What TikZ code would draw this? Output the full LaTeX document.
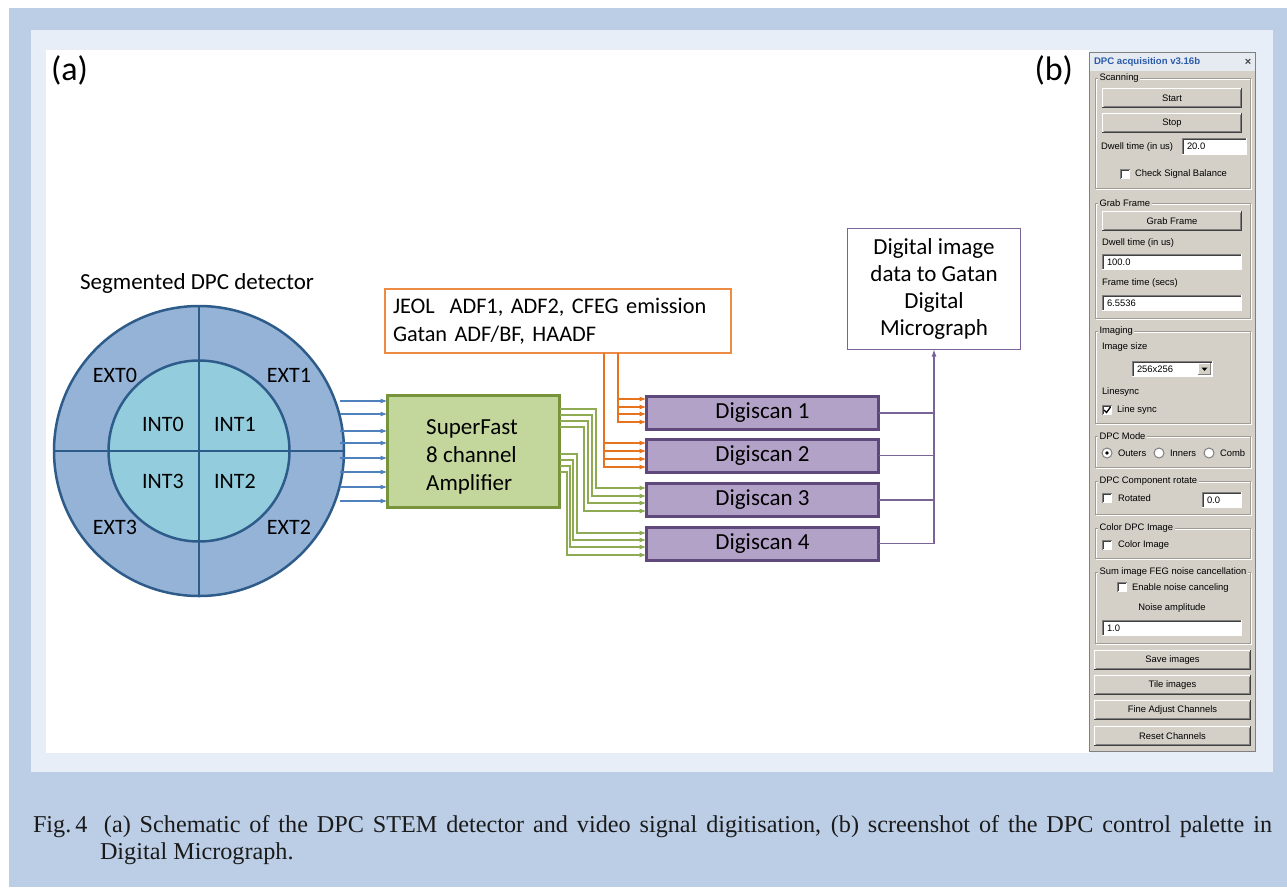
\documentclass[tikz,border=0pt]{standalone}
\usepackage{fontspec}
\setmainfont{Carlito}
\newfontfamily\palfont{Liberation Sans}
\newfontfamily\capfont{Liberation Serif}
\usetikzlibrary{arrows.meta,calc}

\definecolor{pageblue}{HTML}{BCCEE6}
\definecolor{panellight}{HTML}{E8EEF8}
\definecolor{extfill}{HTML}{95B3D7}
\definecolor{intfill}{HTML}{93CDDD}
\definecolor{detline}{HTML}{2E5C8A}
\definecolor{bluearr}{HTML}{4F81BD}
\definecolor{ampfill}{HTML}{C3D69B}
\definecolor{ampline}{HTML}{77933C}
\definecolor{greenarr}{HTML}{8EAA52}
\definecolor{orangebox}{HTML}{ED8B45}
\definecolor{orangeline}{HTML}{E8731F}
\definecolor{dsfill}{HTML}{B3A2C7}
\definecolor{dsline}{HTML}{5F497A}
\definecolor{purpline}{HTML}{7A6396}
\definecolor{palgray}{HTML}{D4D0C8}
\definecolor{palshadow}{HTML}{808080}
\definecolor{paldark}{HTML}{404040}
\definecolor{paletch}{HTML}{A09C94}
\definecolor{titlebg}{HTML}{E6EAF1}
\definecolor{titleblue}{HTML}{2B5CAA}
\definecolor{captext}{HTML}{1A1A1A}

\newcommand\palbtn[6]{%
 \fill[palgray] (#2,#3) rectangle (#4,#5);
 \draw[white, line width=1pt] ({#2+0.5},{#5-1}) -- ({#2+0.5},{#3+0.5}) -- ({#4-1},{#3+0.5});
 \draw[palshadow, line width=1pt] ({#2+1.5},{#5-1.5}) -- ({#4-1.5},{#5-1.5}) -- ({#4-1.5},{#3+1.5});
 \draw[paldark, line width=1pt] ({#2},{#5-0.5}) -- ({#4-0.5},{#5-0.5}) -- ({#4-0.5},{#3});
 \node[paltext] (#1) at ({(#2+#4)/2},{(#3+#5)/2}) {#6};
}
\newcommand\paledit[6]{%
 \fill[white] (#2,#3) rectangle (#4,#5);
 \draw[palshadow, line width=1pt] ({#2+0.5},{#5}) -- ({#2+0.5},{#3+0.5}) -- ({#4},{#3+0.5});
 \draw[paldark, line width=1pt] ({#2+1.5},{#5-1}) -- ({#2+1.5},{#3+1.5}) -- ({#4-1},{#3+1.5});
 \draw[white, line width=1pt] ({#2},{#5-0.5}) -- ({#4-0.5},{#5-0.5}) -- ({#4-0.5},{#3});
 \node[paltext, anchor=west] (#1) at ({#2+5},{(#3+#5)/2}) {#6};
}
\newcommand\palcheck[2]{%
 \fill[white] (#1,#2) rectangle ({#1+10},{#2+10});
 \draw[palshadow, line width=1pt] ({#1+0.5},{#2+10}) -- ({#1+0.5},{#2+0.5}) -- ({#1+10},{#2+0.5});
 \draw[paldark, line width=1pt] ({#1+1.5},{#2+9}) -- ({#1+1.5},{#2+1.5}) -- ({#1+9},{#2+1.5});
}
\newcommand\palgroup[6]{%
 \draw[white, line width=1pt] ({#2+1},{#3+1}) rectangle ({#4+1},{#5+1});
 \draw[paletch, line width=1pt] (#2,#3) rectangle (#4,#5);
 \node[paltext, fill=palgray, inner xsep=1.5pt, anchor=west] (#1) at ({#2+3},{#3}) {#6};
}
\newcommand\palradio[3]{%
 \draw[palshadow, fill=white, line width=1pt] (#1,#2) circle (5pt);
 \ifx#31\fill[black] (#1,#2) circle (1.8pt);\fi
}

\begin{document}
\begin{tikzpicture}[x=1pt,y=-1pt,
  every node/.style={inner sep=0pt, outer sep=0pt},
  lbl/.style={font=\fontsize{23}{28}\selectfont, text=black},
  seglbl/.style={font=\fontsize{22}{26}\selectfont, text=black},
  paltext/.style={font=\palfont\fontsize{9.4}{11}\selectfont, text=black},
  dsbox/.style={draw=dsline, fill=dsfill, line width=3pt, minimum width=232pt, minimum height=33pt, lbl},
  barrow/.style={draw=bluearr, line width=1.1pt, -{Latex[length=7pt,width=5pt]}},
  garrow/.style={draw=greenarr, line width=1.1pt, -{Latex[length=7pt,width=5pt]}},
  oarrow/.style={draw=orangeline, line width=1.1pt, -{Latex[length=7pt,width=5pt]}},
  pline/.style={draw=purpline, line width=1.1pt}
]
\useasboundingbox (0,0) rectangle (1287,887);
% backgrounds
\fill[white] (0,0) rectangle (1287,887);
\fill[pageblue] (9,8) rectangle (1287,887);
\fill[panellight] (31,30) rectangle (1273,772);
\fill[white] (46,50) rectangle (1090,753);

% panel labels
\node[font=\fontsize{34}{40}\selectfont, anchor=west] (la) at (51,70) {(a)};
\node[font=\fontsize{34}{40}\selectfont, anchor=east] (lb) at (1073,70) {(b)};

% detector
\node[lbl] (dettitle) at (197,283) {Segmented DPC detector};
\node[circle, draw=detline, line width=2.5pt, fill=extfill, minimum size=290pt] (outer) at (199,451) {};
\node[circle, draw=detline, line width=2.5pt, fill=intfill, minimum size=181pt] (inner) at (199,451) {};
\draw[detline, line width=1.5pt] (outer.north) -- (outer.south) (outer.west) -- (outer.east);
\node[seglbl] (ext0) at (115,375) {EXT0};
\node[seglbl] (ext1) at (289,375) {EXT1};
\node[seglbl] (ext3) at (115,527) {EXT3};
\node[seglbl] (ext2) at (289,527) {EXT2};
\node[seglbl] (int0) at (163,424) {INT0};
\node[seglbl] (int1) at (235,424) {INT1};
\node[seglbl] (int3) at (163,481) {INT3};
\node[seglbl] (int2) at (235,481) {INT2};
\coordinate (detout) at (340,451);

% amplifier
\node[draw=ampline, fill=ampfill, line width=3pt, minimum width=172pt, minimum height=112pt] (amp) at (473.5,451.5) {};
\node[lbl, align=left] (amptext) at (472,457) {SuperFast\\8 channel\\Amplifier};
\foreach \y in {401,414,431,443,458,472,487,501}
  \draw[barrow] (detout |- 0,\y) -- (amp.west |- 0,\y);

% source box
\node[draw=orangebox, line width=1.5pt, fill=white, minimum width=346pt, minimum height=64pt, font=\fontsize{22.3}{27.5}\selectfont, align=left, text width=330pt] (src) at (558,321) {JEOL\ \ ADF1, ADF2, CFEG emission\\Gatan ADF/BF, HAADF};

% digiscans
\node[dsbox] (ds1) at (762.5,413) {Digiscan 1};
\node[dsbox] (ds2) at (762.5,455.5) {Digiscan 2};
\node[dsbox] (ds3) at (762.5,500) {Digiscan 3};
\node[dsbox] (ds4) at (762.5,543.5) {Digiscan 4};

% orange connectors
\coordinate (o1) at (618,0);
\coordinate (o2) at (604,0);
\foreach \y in {399,407,414,422}
  \draw[oarrow] (src.south -| o1) |- (ds1.west |- 0,\y);
\foreach \y in {443,451,459,467}
  \draw[oarrow] (src.south -| o2) |- (ds2.west |- 0,\y);

% green connectors
\foreach \a/\b/\c in {409/596/488, 415/592/496, 421/588/503, 427/584/511}
  \draw[garrow] (amp.east |- 0,\a) -| (\b,\c) -- (ds3.west |- 0,\c);
\foreach \a/\b/\c in {454/577/533, 460/573/540, 466/570/547, 472/567/555}
  \draw[garrow] (amp.east |- 0,\a) -| (\b,\c) -- (ds4.west |- 0,\c);

% output box
\node[draw=purpline, line width=1.3pt, fill=white, minimum width=173pt, minimum height=121pt, align=center, font=\fontsize{23}{26.7}\selectfont] (dig) at (934,289) {Digital image\\data to Gatan\\Digital\\Micrograph};
\draw[pline] (ds1.east) -- (ds1.east -| dig.south);
\draw[pline] (ds2.east) -- (ds2.east -| dig.south);
\draw[pline] (ds3.east) -- (ds3.east -| dig.south);
\draw[pline, -{Latex[length=7pt,width=5pt]}] (ds4.east) -| (dig.south);

% ---------------- palette ----------------
\fill[palgray] (1089,52) rectangle (1256,752);
\fill[titlebg] (1089,52) rectangle (1256,71);
\draw[palshadow, line width=1pt] (1089.5,52.5) rectangle (1255.5,751.5);
\node[font=\palfont\bfseries\fontsize{9.6}{11}\selectfont, text=titleblue, anchor=west] (ptitle) at (1094,62) {DPC acquisition v3.16b};
\node[font=\palfont\bfseries\fontsize{11}{12}\selectfont, text=paldark] (pclose) at (1248,62) {×};

\palgroup{gscan}{1095}{78}{1250}{188}{Scanning}
\palbtn{bstart}{1102}{88}{1242}{108}{Start}
\palbtn{bstop}{1102}{113}{1242}{133}{Stop}
\node[paltext, anchor=west] (dwell1) at (1101,147) {Dwell time (in us)};
\paledit{edwell1}{1182}{138}{1247}{155}{20.0}
\palcheck{1120}{169}
\node[paltext, anchor=west] (chkbal) at (1135,174) {Check Signal Balance};

\palgroup{ggrab}{1095}{203}{1250}{318}{Grab Frame}
\palbtn{bgrab}{1102}{211}{1242}{231}{Grab Frame}
\node[paltext, anchor=west] (dwell2) at (1102,243) {Dwell time (in us)};
\paledit{edwell2}{1102}{254}{1242}{270}{100.0}
\node[paltext, anchor=west] (ftime) at (1102,283) {Frame time (secs)};
\paledit{eftime}{1102}{295}{1242}{311}{6.5536}

\palgroup{gimg}{1095}{331}{1250}{423}{Imaging}
\node[paltext, anchor=west] (isize) at (1102,347) {Image size};
\paledit{esize}{1132}{361}{1213}{377}{256x256}
\fill[palgray] (1198,363) rectangle (1211,375);
\draw[white, line width=1pt] (1198.5,375) -- (1198.5,363.5) -- (1211,363.5);
\draw[palshadow, line width=1pt] (1198,374.5) -- (1210.5,374.5) -- (1210.5,363);
\fill[black] (1201.5,367.5) -- (1207.5,367.5) -- (1204.5,371) -- cycle;
\node[paltext, anchor=west] (lsync) at (1102,392) {Linesync};
\palcheck{1102}{405}
\draw[black, line width=1.3pt] (1104,410) -- (1106.5,412.5) -- (1110.5,407);
\node[paltext, anchor=west] (lsyncc) at (1117,410) {Line sync};

\palgroup{gmode}{1095}{436}{1250}{467}{DPC Mode}
\palradio{1107}{453}{1}
\node[paltext, anchor=west] (routers) at (1118,453) {Outers};
\palradio{1159}{453}{0}
\node[paltext, anchor=west] (rinners) at (1170,453) {Inners};
\palradio{1209}{453}{0}
\begin{scope}
\clip (1214,440) rectangle (1245.5,465);
\node[paltext, anchor=west] (rcomb) at (1220,453) {Comb};
\end{scope}

\palgroup{grot}{1095}{481}{1250}{514}{DPC Component rotate}
\palcheck{1102}{493}
\node[paltext, anchor=west] (rotated) at (1118,498) {Rotated};
\paledit{erot}{1202}{492}{1242}{508}{0.0}

\palgroup{gcol}{1095}{528}{1250}{558}{Color DPC Image}
\palcheck{1102}{540}
\node[paltext, anchor=west] (colimg) at (1118,545) {Color Image};

\palgroup{gsum}{1095}{572}{1250}{643}{Sum image FEG noise cancellation}
\palcheck{1117}{582}
\node[paltext, anchor=west] (enoise) at (1132,588) {Enable noise canceling};
\node[paltext] (namp) at (1172,608) {Noise amplitude};
\paledit{enamp}{1102}{620}{1242}{636}{1.0}

\palbtn{bsave}{1094}{650}{1251}{670}{Save images}
\palbtn{btile}{1094}{675}{1251}{695}{Tile images}
\palbtn{bfine}{1094}{700}{1251}{720}{Fine Adjust Channels}
\palbtn{breset}{1094}{726}{1251}{746}{Reset Channels}

% caption
\node[anchor=base west, text=captext, font=\capfont\fontsize{24.2}{28}\selectfont] (capA) at (33,832)
 {\hbox to 1239pt{\hbox to 71pt{Fig.\,4\hfil}(a) Schematic of the DPC STEM detector and video signal digitisation, (b) screenshot of the DPC control palette in}};
\node[anchor=base west, text=captext, font=\capfont\fontsize{24.2}{28}\selectfont] (capB) at (100,859) {Digital Micrograph.};
\end{tikzpicture}
\end{document}
